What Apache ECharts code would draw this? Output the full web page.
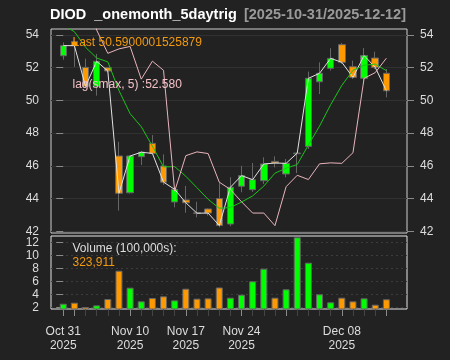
<!DOCTYPE html>
<html>
<head>
<meta charset="utf-8">
<script src="https://cdn.jsdelivr.net/npm/echarts@6/dist/echarts.min.js"></script>
<style>html,body{margin:0;padding:0;background:#222222;}#c{width:450px;height:360px;}</style>
</head>
<body>
<div id="c"></div>
<script>
const dates = ['2025-10-31','2025-11-03','2025-11-04','2025-11-05','2025-11-06','2025-11-07',
  '2025-11-10','2025-11-11','2025-11-12','2025-11-13','2025-11-14',
  '2025-11-17','2025-11-18','2025-11-19','2025-11-20','2025-11-21',
  '2025-11-24','2025-11-25','2025-11-26','2025-11-28',
  '2025-12-01','2025-12-02','2025-12-03','2025-12-04','2025-12-05',
  '2025-12-08','2025-12-09','2025-12-10','2025-12-11','2025-12-12'];
const openP  = [52.73,53.60,52.02,50.86,52.00,46.60,44.35,46.56,47.37,45.99,43.79,43.91,43.12,43.36,44.00,42.44,44.75,44.54,45.09,46.27,45.50,46.74,47.19,51.14,51.96,53.41,52.06,51.35,52.59,51.66];
const closeP = [53.35,53.35,50.86,52.39,51.80,44.32,46.60,46.83,46.76,45.00,44.56,43.74,43.10,43.11,42.35,44.69,45.40,45.15,46.11,46.17,46.15,46.78,51.35,51.66,52.57,52.33,51.41,52.74,52.02,50.59];
const lowP   = [52.49,52.05,50.75,50.29,51.72,43.26,44.30,46.05,46.70,44.83,43.46,43.13,42.85,42.95,42.24,42.30,44.38,44.40,44.89,45.90,45.30,45.55,47.03,50.39,51.82,52.23,51.31,51.20,51.92,50.19];
const highP  = [53.55,53.65,52.55,52.84,52.05,47.47,46.65,46.90,47.88,46.70,44.72,44.77,43.80,43.40,45.00,45.30,46.00,46.17,46.52,46.58,46.42,46.80,51.76,52.33,53.19,53.51,52.43,53.20,52.98,51.92];
const smaLine = [54.60,54.20,53.25,52.59,52.36,50.60,49.19,48.39,47.20,45.93,45.95,45.36,44.66,43.95,43.40,43.45,43.78,44.16,44.76,45.55,45.85,46.08,47.27,48.43,49.74,50.92,51.84,52.15,52.22,51.82];
const lagLine = [56.00,56.00,57.00,54.30,52.88,53.15,53.30,51.30,52.40,51.84,44.45,46.62,46.85,46.75,45.00,44.55,43.80,43.11,43.11,42.34,44.72,45.42,45.16,46.12,46.18,46.15,46.80,51.35,51.70,52.58];
const volume = [2.55,2.71,2.05,2.30,3.28,7.63,5.02,2.92,3.43,3.69,3.07,4.86,3.33,3.38,5.05,3.48,3.94,6.00,7.94,3.48,4.77,12.77,8.86,4.00,2.77,3.48,2.92,3.38,2.40,3.239];
const priceTicks = [42,44,46,48,50,52,54];
const volTicks = [2,4,6,8,10,12];
const labelIdx = [0,6,11,16,25];
const majorTickIdx = [0,1,6,11,16,20,25,29];
const monthNames = ['Jan','Feb','Mar','Apr','May','Jun','Jul','Aug','Sep','Oct','Nov','Dec'];
const titleMain = 'DIOD  _onemonth_5daytrig';
const lastText = 'Last 50.5900001525879';
const lagText = 'lag(smax, 5) :52.580';
const volTitle = 'Volume (100,000s):';
const volLast = '323,911';

const UP = '#00ff00', DN = '#ff9900', EDGE = '#666666';
const FONT = 'Liberation Sans';
const idx = dates.map((d, i) => i);
const XMIN = -1.1, XMAX = 30.85;

function dateLabel(v) {
  const i = Math.round(v);
  const d = dates[i];
  if (!d) return '';
  const p = d.split('-');
  return monthNames[parseInt(p[1], 10) - 1] + ' ' + p[2] + '\n' + p[0];
}

const chart = echarts.init(document.getElementById('c'), null, {renderer: 'canvas'});
chart.setOption({
  backgroundColor: '#222222',
  animation: false,
  textStyle: {fontFamily: FONT},
  grid: [
    {left: 51, top: 29, width: 356, height: 204, show: true, borderColor: '#cfcfcf', borderWidth: 1, backgroundColor: 'transparent'},
    {left: 51, top: 236, width: 356, height: 73, show: true, borderColor: '#e6e6e6', borderWidth: 1, backgroundColor: 'transparent'}
  ],
  xAxis: [
    {gridIndex: 0, type: 'value', min: XMIN, max: XMAX, show: false},
    {gridIndex: 1, type: 'value', min: XMIN, max: XMAX, position: 'bottom',
      axisLine: {show: false}, splitLine: {show: false},
      axisTick: {show: true, customValues: idx, length: 7, lineStyle: {color: '#444444'}},
      axisLabel: {show: false}},
    {gridIndex: 1, type: 'value', min: XMIN, max: XMAX, position: 'bottom',
      axisLine: {show: false}, splitLine: {show: false},
      axisTick: {show: true, customValues: majorTickIdx, length: 7, lineStyle: {color: '#8a8a8a'}},
      axisLabel: {show: true, customValues: labelIdx, formatter: dateLabel, color: '#dddddd',
        fontSize: 12, lineHeight: 13.5, margin: 16, fontFamily: FONT}}
  ],
  yAxis: [
    {gridIndex: 0, type: 'value', position: 'left', min: 41.89, max: 54.367, offset: 3,
      axisLine: {show: false},
      axisTick: {show: true, customValues: priceTicks, length: 7, lineStyle: {color: '#8a8a8a'}},
      axisLabel: {show: true, customValues: priceTicks, color: '#dddddd', fontSize: 12, margin: 9, fontFamily: FONT},
      splitLine: {show: true, lineStyle: {color: '#313131', width: 1}}},
    {gridIndex: 0, type: 'value', position: 'right', min: 41.89, max: 54.367,
      axisLine: {show: false},
      axisTick: {show: true, customValues: priceTicks, length: 7, lineStyle: {color: '#8a8a8a'}},
      axisLabel: {show: true, customValues: priceTicks, color: '#dddddd', fontSize: 12, margin: 13, fontFamily: FONT},
      splitLine: {show: false}},
    {gridIndex: 1, type: 'value', position: 'left', min: 1.74, max: 12.97, offset: 3,
      axisLine: {show: false},
      axisTick: {show: true, customValues: volTicks, length: 7, lineStyle: {color: '#8a8a8a'}},
      axisLabel: {show: true, customValues: volTicks, color: '#dddddd', fontSize: 12, margin: 9, fontFamily: FONT},
      splitLine: {show: true, lineStyle: {color: '#3c3c3c', width: 1, type: [2, 3]}}}
  ],
  series: [
    {type: 'candlestick', xAxisIndex: 0, yAxisIndex: 0, barWidth: 7, clip: true,
      data: idx.map(i => [i, openP[i], closeP[i], lowP[i], highP[i]]),
      itemStyle: {color: UP, color0: DN, borderColor: EDGE, borderColor0: EDGE, borderWidth: 1}, z: 2},
    {type: 'line', xAxisIndex: 0, yAxisIndex: 0, symbol: 'none', clip: true, z: 3,
      data: idx.map(i => [i, closeP[i]]), lineStyle: {color: '#e2e2e2', width: 1}},
    {type: 'line', xAxisIndex: 0, yAxisIndex: 0, symbol: 'none', clip: true, z: 3,
      data: idx.map(i => [i, smaLine[i]]), lineStyle: {color: '#19c419', width: 1}},
    {type: 'line', xAxisIndex: 0, yAxisIndex: 0, symbol: 'none', clip: true, z: 3,
      data: idx.map(i => [i, lagLine[i]]), lineStyle: {color: '#e9b5bd', width: 1}},
    {type: 'bar', xAxisIndex: 1, yAxisIndex: 2, barWidth: 7, clip: true,
      data: idx.map(i => [i, volume[i]]),
      itemStyle: {borderColor: EDGE, borderWidth: 1,
        color: p => (closeP[p.dataIndex] >= openP[p.dataIndex] ? UP : DN)}}
  ],
  graphic: [
    {type: 'text', x: 50, y: 15, silent: true,
      style: {text: titleMain, fill: '#ffffff', font: 'bold 14.5px ' + FONT, align: 'left', verticalAlign: 'middle'}},
    {type: 'text', x: 406, y: 15, silent: true,
      style: {text: '[' + dates[0] + '/' + dates[dates.length - 1] + ']', fill: '#9a9a9a', font: 'bold 14.5px ' + FONT, align: 'right', verticalAlign: 'middle'}},
    {type: 'text', x: 72.5, y: 42.5, silent: true, z: 10,
      style: {text: lastText, fill: '#f39a0e', font: '12px ' + FONT, align: 'left', verticalAlign: 'middle'}},
    {type: 'text', x: 72.5, y: 85, silent: true, z: 10,
      style: {text: lagText, fill: '#f2c0c6', font: '12px ' + FONT, align: 'left', verticalAlign: 'middle'}},
    {type: 'text', x: 72.5, y: 249, silent: true, z: 10,
      style: {text: volTitle, fill: '#dddddd', font: '12px ' + FONT, align: 'left', verticalAlign: 'middle'}},
    {type: 'text', x: 72.5, y: 262.5, silent: true, z: 10,
      style: {text: volLast, fill: '#f39a0e', font: '12px ' + FONT, align: 'left', verticalAlign: 'middle'}}
  ]
});
</script>
</body>
</html>
